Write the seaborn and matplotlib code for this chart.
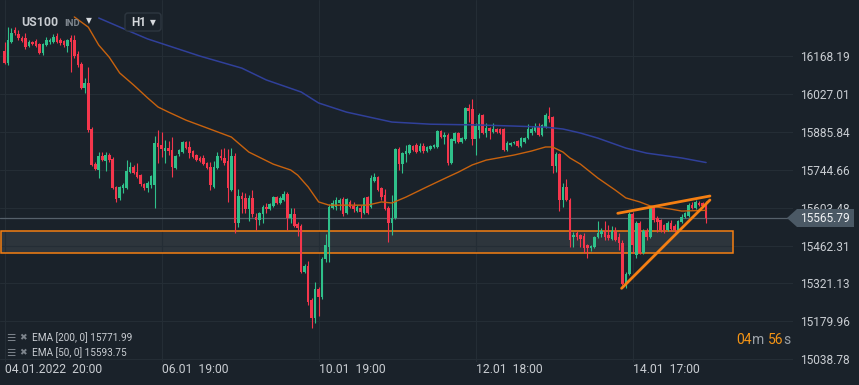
import matplotlib
matplotlib.use('Agg')
import matplotlib.pyplot as plt
from matplotlib.patches import Rectangle, Polygon, FancyBboxPatch
from matplotlib.transforms import IdentityTransform
import numpy as np
import pandas as pd
import seaborn as sns

# ---------------- data (US100, H1) ----------------
opens = [16188, 16143, 16221, 16266, 16251, 16236, 16236, 16206, 16221, 16225,
         16214, 16180, 16210, 16221, 16221, 16244, 16229, 16225, 16206, 16236,
         16229, 16177, 16139, 16050, 16068, 15897, 15766, 15744, 15796, 15777,
         15800, 15785, 15681, 15640, 15677, 15677, 15736, 15755, 15736, 15725,
         15692, 15677, 15688, 15688, 15845, 15837, 15815, 15826, 15819, 15751,
         15804, 15811, 15848, 15830, 15815, 15800, 15789, 15789, 15770, 15755,
         15681, 15751, 15796, 15789, 15777, 15669, 15796, 15546, 15647, 15640,
         15598, 15640, 15569, 15557, 15580, 15606, 15598, 15610, 15643, 15621,
         15632, 15654, 15565, 15580, 15543, 15535, 15363, 15386, 15259, 15192,
         15300, 15270, 15412, 15457, 15602, 15606, 15621, 15636, 15583, 15625,
         15610, 15591, 15602, 15583, 15643, 15606, 15703, 15718, 15677, 15651,
         15602, 15546, 15565, 15822, 15766, 15804, 15807, 15833, 15837, 15815,
         15833, 15815, 15822, 15830, 15830, 15889, 15867, 15874, 15770, 15852,
         15882, 15848, 15860, 15975, 15971, 15860, 15893, 15949, 15882, 15901,
         15886, 15897, 15897, 15897, 15819, 15837, 15845, 15852, 15833, 15848,
         15863, 15882, 15889, 15904, 15874, 15904, 15945, 15942, 15759, 15804,
         15632, 15681, 15632, 15494, 15509, 15502, 15498, 15464, 15453, 15457,
         15494, 15505, 15516, 15502, 15487, 15516, 15494, 15472, 15319, 15356,
         15580, 15427, 15546, 15434, 15516, 15494, 15602, 15565, 15557, 15539,
         15520, 15546, 15535, 15520, 15550, 15569, 15572, 15613, 15602, 15621,
         15621, 15613]

closes = [16143, 16229, 16255, 16255, 16236, 16225, 16203, 16221, 16214, 16206,
          16180, 16214, 16229, 16229, 16240, 16221, 16218, 16210, 16229, 16221,
          16169, 16136, 16050, 16068, 15893, 15763, 15748, 15796, 15781, 15800,
          15781, 15677, 15636, 15681, 15688, 15740, 15755, 15733, 15718, 15692,
          15677, 15695, 15722, 15845, 15830, 15822, 15826, 15815, 15755, 15796,
          15819, 15848, 15826, 15807, 15792, 15781, 15777, 15766, 15751, 15688,
          15755, 15796, 15789, 15770, 15677, 15796, 15546, 15647, 15636, 15598,
          15640, 15580, 15557, 15583, 15606, 15598, 15617, 15643, 15621, 15640,
          15654, 15565, 15580, 15535, 15528, 15363, 15386, 15252, 15192, 15300,
          15270, 15412, 15464, 15606, 15621, 15632, 15632, 15580, 15636, 15606,
          15598, 15606, 15587, 15640, 15583, 15714, 15718, 15669, 15643, 15598,
          15546, 15565, 15822, 15766, 15807, 15815, 15837, 15819, 15811, 15833,
          15815, 15830, 15833, 15837, 15889, 15867, 15874, 15770, 15860, 15882,
          15848, 15863, 15975, 15964, 15860, 15908, 15949, 15882, 15901, 15889,
          15897, 15886, 15882, 15819, 15845, 15845, 15848, 15833, 15863, 15863,
          15897, 15897, 15904, 15874, 15912, 15949, 15934, 15759, 15804, 15632,
          15681, 15632, 15483, 15502, 15494, 15487, 15453, 15453, 15460, 15494,
          15509, 15516, 15494, 15490, 15516, 15483, 15472, 15319, 15356, 15580,
          15464, 15546, 15434, 15516, 15494, 15602, 15557, 15550, 15520, 15520,
          15546, 15524, 15520, 15554, 15569, 15583, 15613, 15602, 15625, 15613,
          15610, 15565.79]

highs = [16221, 16277, 16274, 16277, 16266, 16244, 16255, 16229, 16225, 16233,
         16218, 16218, 16240, 16236, 16251, 16255, 16236, 16229, 16233, 16247,
         16247, 16188, 16147, 16087, 16128, 15904, 15774, 15811, 15811, 15811,
         15807, 15792, 15684, 15684, 15695, 15781, 15774, 15763, 15770, 15729,
         15695, 15703, 15725, 15871, 15893, 15886, 15856, 15852, 15867, 15800,
         15822, 15852, 15852, 15852, 15819, 15804, 15796, 15800, 15774, 15774,
         15777, 15811, 15822, 15826, 15822, 15826, 15807, 15673, 15662, 15658,
         15651, 15669, 15583, 15587, 15613, 15621, 15621, 15647, 15647, 15647,
         15666, 15662, 15602, 15602, 15550, 15543, 15393, 15405, 15267, 15326,
         15308, 15419, 15505, 15617, 15632, 15643, 15640, 15643, 15640, 15632,
         15625, 15613, 15613, 15643, 15647, 15725, 15733, 15722, 15681, 15673,
         15610, 15651, 15826, 15830, 15811, 15837, 15841, 15837, 15845, 15845,
         15845, 15833, 15837, 15841, 15893, 15893, 15886, 15882, 15863, 15886,
         15886, 15867, 15979, 15990, 16009, 15919, 15957, 15953, 15919, 15904,
         15919, 15901, 15901, 15901, 15852, 15848, 15852, 15856, 15867, 15867,
         15915, 15904, 15919, 15919, 15915, 15957, 15979, 15945, 15811, 15807,
         15695, 15710, 15640, 15513, 15516, 15505, 15509, 15468, 15464, 15498,
         15554, 15528, 15554, 15539, 15535, 15531, 15509, 15483, 15363, 15587,
         15587, 15554, 15554, 15524, 15528, 15610, 15613, 15572, 15561, 15543,
         15554, 15557, 15543, 15557, 15580, 15587, 15621, 15625, 15632, 15628,
         15625, 15628]

lows = [16139, 16136, 16218, 16247, 16229, 16221, 16195, 16203, 16210, 16203,
        16177, 16173, 16206, 16214, 16218, 16218, 16210, 16203, 16184, 16109,
        16162, 16128, 16046, 16031, 15886, 15759, 15744, 15714, 15777, 15740,
        15774, 15673, 15625, 15632, 15658, 15673, 15733, 15729, 15714, 15684,
        15669, 15662, 15677, 15602, 15770, 15792, 15770, 15800, 15718, 15748,
        15796, 15807, 15822, 15789, 15789, 15777, 15774, 15763, 15748, 15669,
        15677, 15748, 15781, 15763, 15625, 15666, 15509, 15531, 15583, 15583,
        15554, 15569, 15520, 15539, 15546, 15583, 15595, 15606, 15617, 15617,
        15628, 15520, 15546, 15531, 15498, 15360, 15360, 15240, 15155, 15173,
        15199, 15263, 15401, 15401, 15598, 15595, 15595, 15572, 15580, 15602,
        15587, 15587, 15565, 15580, 15580, 15602, 15699, 15666, 15632, 15595,
        15475, 15502, 15561, 15744, 15733, 15774, 15804, 15815, 15807, 15811,
        15807, 15811, 15819, 15826, 15826, 15863, 15841, 15763, 15766, 15845,
        15845, 15845, 15856, 15923, 15837, 15800, 15863, 15878, 15867, 15860,
        15882, 15882, 15878, 15815, 15815, 15833, 15841, 15830, 15830, 15845,
        15860, 15874, 15886, 15871, 15871, 15901, 15923, 15733, 15736, 15591,
        15606, 15628, 15457, 15457, 15483, 15457, 15434, 15416, 15442, 15453,
        15490, 15494, 15483, 15483, 15483, 15479, 15446, 15315, 15304, 15352,
        15434, 15416, 15431, 15431, 15483, 15490, 15550, 15513, 15513, 15509,
        15516, 15516, 15513, 15516, 15546, 15565, 15569, 15598, 15598, 15610,
        15606, 15546]

ema200_bar = [27, 37, 41, 56, 68, 75, 85, 90, 98, 111, 122, 136, 146, 155, 160,
              165, 170, 178, 184, 194, 201]
ema200_val = [16311, 16255, 16233, 16169, 16124, 16080, 16035, 15994, 15960, 15923,
              15915, 15912, 15908, 15904, 15897, 15882, 15863, 15826, 15807, 15789,
              15771.99]

ema50_bar = [20, 24, 27, 30, 33, 37, 41, 44, 47, 52, 58, 65, 70, 77, 82, 84, 87, 90,
             93, 98, 104, 108, 111, 115, 121, 127, 130, 134, 138, 146, 151, 155, 157,
             160, 162, 165, 170, 175, 178, 182, 185, 191, 194, 201]
ema50_val = [16315, 16277, 16210, 16165, 16106, 16061, 16013, 15979, 15960, 15930,
             15901, 15867, 15811, 15766, 15744, 15725, 15681, 15625, 15613, 15613,
             15613, 15625, 15621, 15643, 15681, 15718, 15736, 15763, 15781, 15800,
             15815, 15830, 15830, 15811, 15789, 15766, 15714, 15669, 15640, 15625,
             15610, 15598, 15591, 15593.75]

price_ticks = [16168.19, 16027.01, 15885.84, 15744.66, 15603.48, 15462.31,
               15321.13, 15179.96, 15038.78]
time_tick_bars = [0, 45, 90, 135, 180]
time_tick_labels = ['04.01.2022  20:00', '06.01  19:00', '10.01  19:00',
                    '12.01  18:00', '14.01  17:00']

zone_top, zone_bottom = 15517.7, 15433.4
zone_start_bar, zone_end_bar = -1.0, 208.7
wedge_upper_bar, wedge_upper_px = [175.7, 202.1], [15582.6, 15647.1]
wedge_lower_bar, wedge_lower_px = [176.8, 202.1], [15302.8, 15632.2]
last_price = 15565.79
legend_rows = ['EMA [200, 0] 15771.99', 'EMA [50, 0] 15593.75']

# ---------------- style ----------------
W, H = 859, 385
BG = '#1a222a'
GRID = '#242d35'
TXT = '#c9cdd2'
UP = '#2fc08a'
DN = '#f4364c'
ORANGE = '#f57f12'

sns.set_theme(style='dark')
plt.rcParams['font.family'] = ['Roboto', 'DejaVu Sans']

n = min(len(opens), len(closes), len(highs), len(lows))
df = pd.DataFrame({'bar': np.arange(n), 'open': opens[:n], 'close': closes[:n],
                   'high': highs[:n], 'low': lows[:n]})
df['high'] = df[['high', 'open', 'close']].max(axis=1)
df['low'] = df[['low', 'open', 'close']].min(axis=1)
df['up'] = df['close'] >= df['open']
df['color'] = np.where(df['up'], UP, DN)
body_lo = df[['open', 'close']].min(axis=1)
body_h = (df['close'] - df['open']).abs()
min_h = 3.7
body_lo = np.where(body_h < min_h, (df['open'] + df['close']) / 2 - min_h / 2, body_lo)
body_h = np.maximum(body_h, min_h)

fig = plt.figure(figsize=(W / 100, H / 100), dpi=100, facecolor=BG)
ax = fig.add_axes([0, 23 / H, 793 / W, 362 / H])
ax.set_facecolor(BG)
ax.set_xlim(-1.29, 225.9)
ax.set_ylim(15027.96, 16378.2)

# zone
ax.add_patch(Rectangle((zone_start_bar, zone_bottom), zone_end_bar - zone_start_bar,
                       zone_top - zone_bottom, facecolor='#2d353c', edgecolor='none',
                       zorder=0.3))
ax.add_patch(Rectangle((zone_start_bar, zone_bottom), zone_end_bar - zone_start_bar,
                       zone_top - zone_bottom, fill=False, edgecolor=ORANGE,
                       linewidth=1.1, zorder=1.2))

# last price line
ax.axhline(last_price, color='#56616b', linewidth=0.9, zorder=1.5)

# candles
ax.vlines(df['bar'], df['low'], df['high'], colors=df['color'], linewidth=0.8, zorder=2.5)
ax.bar(df['bar'], body_h, bottom=body_lo, width=0.74, color=df['color'],
       linewidth=0, zorder=3)

# EMAs
sns.lineplot(x=ema200_bar, y=ema200_val, ax=ax, color='#30409a', linewidth=1.1,
             zorder=4, legend=False)
sns.lineplot(x=ema50_bar, y=ema50_val, ax=ax, color='#c8620e', linewidth=1.0,
             zorder=4, legend=False)

# wedge
ax.plot(wedge_upper_bar, wedge_upper_px, color=ORANGE, linewidth=2.0,
        solid_capstyle='round', zorder=5)
ax.plot(wedge_lower_bar, wedge_lower_px, color=ORANGE, linewidth=2.0,
        solid_capstyle='round', zorder=5)

# axes / grid
ax.set_yticks(price_ticks)
ax.set_yticklabels([f'{v:.2f}' for v in price_ticks])
ax.set_xticks(time_tick_bars)
ax.set_xticklabels(time_tick_labels, ha='left')
ax.set_xlabel('')
ax.set_ylabel('')
ax.grid(True, color=GRID, linewidth=0.8)
ax.set_axisbelow(True)
for s in ax.spines.values():
    s.set_visible(False)
ax.yaxis.tick_right()
ax.tick_params(axis='y', length=0, pad=5, labelsize=8.6, labelcolor=TXT)
ax.tick_params(axis='x', length=0, pad=1.0, labelsize=8.7, labelcolor=TXT)

ID = IdentityTransform()

def fx(x):
    return x / W

def fy(y):
    return 1 - y / H

# header
fig.text(fx(21), fy(22.5), 'US100', fontsize=8.8, fontweight='bold', color='#c8ccd1',
         ha='left', va='center')
fig.text(fx(64), fy(23), 'IND', fontsize=6.8, fontweight='bold', color='#7f878f',
         ha='left', va='center')
fig.text(fx(89), fy(20.5), '▼', fontsize=5.5, color='#d6d9dd', ha='center', va='center',
         family=['DejaVu Sans'])
fig.add_artist(FancyBboxPatch((125, H - 31), 36, 18, boxstyle='round,pad=0,rounding_size=3',
                              transform=ID, facecolor=BG, edgecolor='#2e3740', linewidth=1.0))
fig.text(fx(131), fy(22.5), 'H1', fontsize=8.4, fontweight='bold', color='#d6d9dd',
         ha='left', va='center')
fig.text(fx(153), fy(22.5), '▼', fontsize=5.5, color='#d6d9dd', ha='center', va='center',
         family=['DejaVu Sans'])

# price box
fig.add_artist(Polygon([(787, H - 218), (797, H - 209), (854, H - 209), (854, H - 227),
                        (797, H - 227)], closed=True, transform=ID,
                       facecolor='#4b5965', edgecolor='none'))
fig.text(fx(800), fy(218.5), f'{last_price:.2f}', fontsize=8.6, color='#eef0f2',
         ha='left', va='center')

# legend rows
for k, row in enumerate(legend_rows):
    yy = 338 + k * 14.5
    fig.text(fx(6), fy(yy), '☰', fontsize=7.5, color='#7d848c', ha='left', va='center',
             family=['DejaVu Sans'])
    fig.text(fx(19), fy(yy), '✖', fontsize=6.6, color='#7d848c', ha='left', va='center',
             family=['DejaVu Sans'])
    fig.text(fx(32), fy(yy), row, fontsize=7.2, color=TXT, ha='left', va='center')

# countdown
renderer = fig.canvas.get_renderer()
parts = [('04', '#f39416'), ('m', '#9aa1a8'), (None, None), ('56', '#f39416'), ('s', '#9aa1a8')]
xr = 791
for txt, col in reversed(parts):
    if txt is None:
        xr -= 4
        continue
    t = fig.text(fx(xr), fy(340), txt, fontsize=10, color=col, ha='right', va='center')
    bb = t.get_window_extent(renderer)
    xr = bb.x0

fig.savefig('out.png', dpi=100, facecolor=BG)
